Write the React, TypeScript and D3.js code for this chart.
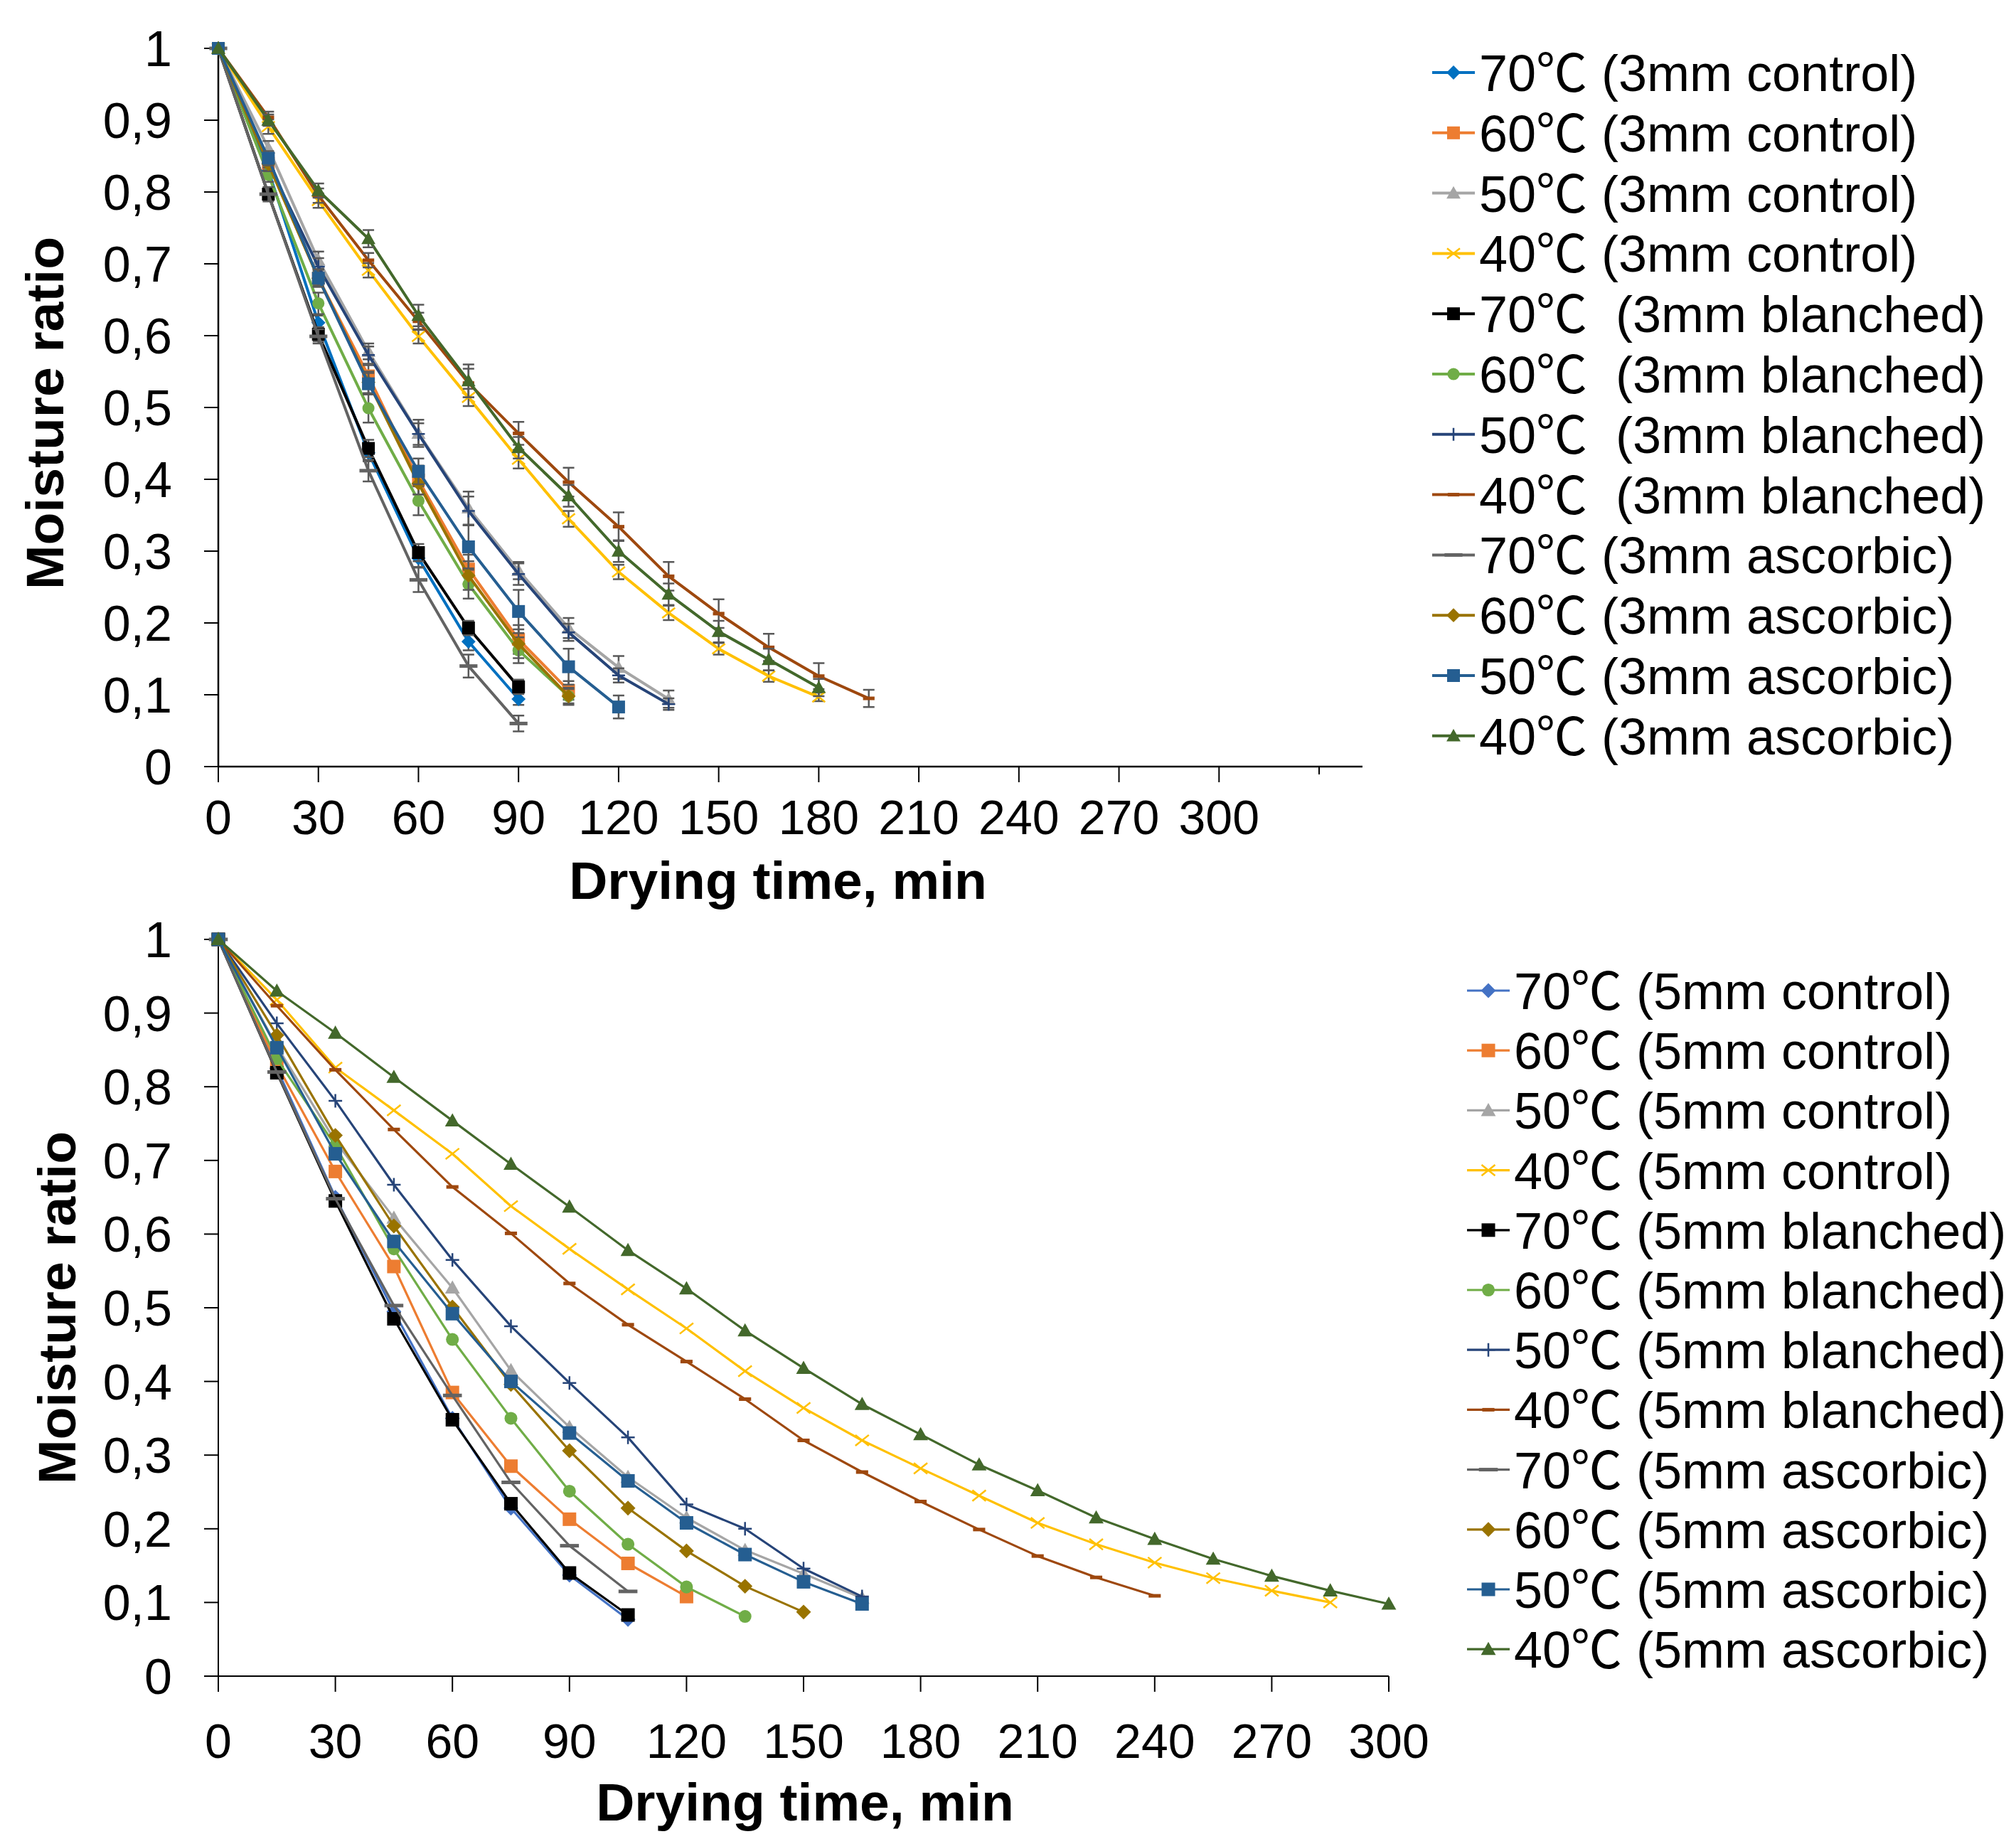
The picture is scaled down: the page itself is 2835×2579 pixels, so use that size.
import React, { useEffect, useRef } from 'react';
import * as d3 from 'd3';

// drying time (min), shared by all series
const times = [0, 15, 30, 45, 60, 75, 90, 105, 120, 135, 150, 165, 180, 195, 210, 225, 240, 255, 270, 285, 300];
const yTickValues = [0, 0.1, 0.2, 0.3, 0.4, 0.5, 0.6, 0.7, 0.8, 0.9, 1];
const yTickLabels = ['0', '0,1', '0,2', '0,3', '0,4', '0,5', '0,6', '0,7', '0,8', '0,9', '1'];
const xTickValuesTop = [0, 30, 60, 90, 120, 150, 180, 210, 240, 270, 300, 330];
const xTickValuesBottom = [0, 30, 60, 90, 120, 150, 180, 210, 240, 270, 300];
const xTickLabels = ['0', '30', '60', '90', '120', '150', '180', '210', '240', '270', '300'];

// 3 mm slices: moisture ratio
const mr3Control70 = [1, 0.83, 0.618, 0.437, 0.29, 0.174, 0.094];
const mr3Control60 = [1, 0.84, 0.68, 0.544, 0.399, 0.275, 0.177, 0.106];
const mr3Control50 = [1, 0.861, 0.705, 0.578, 0.464, 0.36, 0.273, 0.193, 0.138, 0.094];
const mr3Control40 = [1, 0.891, 0.788, 0.691, 0.599, 0.514, 0.428, 0.345, 0.271, 0.214, 0.164, 0.126, 0.097];
const mr3Blanched70 = [1, 0.797, 0.602, 0.443, 0.298, 0.193, 0.111];
const mr3Blanched60 = [1, 0.824, 0.645, 0.499, 0.37, 0.254, 0.162, 0.098];
const mr3Blanched50 = [1, 0.84, 0.696, 0.573, 0.463, 0.356, 0.268, 0.187, 0.127, 0.087];
const mr3Blanched40 = [1, 0.904, 0.795, 0.705, 0.62, 0.534, 0.464, 0.396, 0.334, 0.265, 0.213, 0.166, 0.126, 0.095];
const mr3Ascorbic70 = [1, 0.797, 0.599, 0.412, 0.26, 0.14, 0.06];
const mr3Ascorbic60 = [1, 0.839, 0.68, 0.535, 0.394, 0.266, 0.171, 0.098];
const mr3Ascorbic50 = [1, 0.847, 0.68, 0.533, 0.411, 0.306, 0.216, 0.139, 0.083];
const mr3Ascorbic40 = [1, 0.9, 0.802, 0.735, 0.628, 0.537, 0.444, 0.377, 0.3, 0.24, 0.188, 0.149, 0.11];

// 3 mm slices: error (+/-)
const err3Control70 = [0, 0.01, 0.01, 0.012, 0.012, 0.012, 0.008];
const err3Control60 = [0, 0.01, 0.01, 0.015, 0.02, 0.02, 0.02, 0.013];
const err3Control50 = [0, 0.01, 0.012, 0.011, 0.019, 0.023, 0.012, 0.014, 0.016, 0.012];
const err3Control40 = [0, 0.01, 0.01, 0.01, 0.01, 0.012, 0.013, 0.011, 0.01, 0.01, 0.008, 0.008, 0.006];
const err3Blanched70 = [0, 0.008, 0.01, 0.012, 0.012, 0.01, 0.01];
const err3Blanched60 = [0, 0.01, 0.015, 0.02, 0.02, 0.02, 0.018, 0.01];
const err3Blanched50 = [0, 0.01, 0.012, 0.012, 0.015, 0.02, 0.015, 0.012, 0.01, 0.008];
const err3Blanched40 = [0, 0.008, 0.01, 0.01, 0.012, 0.02, 0.016, 0.02, 0.02, 0.02, 0.02, 0.019, 0.018, 0.012];
const err3Ascorbic70 = [0, 0.01, 0.01, 0.015, 0.017, 0.016, 0.011];
const err3Ascorbic60 = [0, 0.01, 0.012, 0.015, 0.015, 0.02, 0.02, 0.012];
const err3Ascorbic50 = [0, 0.01, 0.012, 0.015, 0.018, 0.03, 0.03, 0.025, 0.016];
const err3Ascorbic40 = [0, 0.008, 0.01, 0.012, 0.015, 0.023, 0.015, 0.015, 0.015, 0.015, 0.015, 0.015, 0.012];

// 5 mm slices: moisture ratio
const mr5Control70 = [1, 0.825, 0.65, 0.495, 0.35, 0.228, 0.137, 0.077];
const mr5Control60 = [1, 0.83, 0.685, 0.556, 0.385, 0.285, 0.213, 0.153, 0.108];
const mr5Control50 = [1, 0.855, 0.726, 0.622, 0.527, 0.415, 0.338, 0.27, 0.215, 0.171, 0.139, 0.106];
const mr5Control40 = [1, 0.918, 0.826, 0.768, 0.709, 0.638, 0.58, 0.525, 0.472, 0.414, 0.364, 0.32, 0.282, 0.245, 0.208, 0.179, 0.154, 0.133, 0.116, 0.1];
const mr5Blanched70 = [1, 0.819, 0.645, 0.485, 0.348, 0.234, 0.14, 0.083];
const mr5Blanched60 = [1, 0.838, 0.72, 0.58, 0.457, 0.35, 0.251, 0.179, 0.121, 0.081];
const mr5Blanched50 = [1, 0.886, 0.781, 0.667, 0.565, 0.475, 0.398, 0.324, 0.233, 0.2, 0.146, 0.108];
const mr5Blanched40 = [1, 0.91, 0.823, 0.742, 0.664, 0.601, 0.533, 0.477, 0.427, 0.376, 0.32, 0.277, 0.237, 0.199, 0.163, 0.134, 0.109];
const mr5Ascorbic70 = [1, 0.82, 0.648, 0.503, 0.381, 0.263, 0.177, 0.115];
const mr5Ascorbic60 = [1, 0.87, 0.734, 0.611, 0.501, 0.396, 0.306, 0.228, 0.17, 0.122, 0.087];
const mr5Ascorbic50 = [1, 0.853, 0.709, 0.59, 0.492, 0.4, 0.33, 0.265, 0.208, 0.165, 0.128, 0.098];
const mr5Ascorbic40 = [1, 0.93, 0.873, 0.813, 0.754, 0.695, 0.637, 0.578, 0.526, 0.469, 0.418, 0.369, 0.328, 0.287, 0.252, 0.215, 0.186, 0.159, 0.136, 0.116, 0.098];

const labels3 = [
  '70℃ (3mm control)', '60℃ (3mm control)', '50℃ (3mm control)', '40℃ (3mm control)',
  '70℃  (3mm blanched)', '60℃  (3mm blanched)', '50℃  (3mm blanched)', '40℃  (3mm blanched)',
  '70℃ (3mm ascorbic)', '60℃ (3mm ascorbic)', '50℃ (3mm ascorbic)', '40℃ (3mm ascorbic)',
];
const labels5 = [
  '70℃ (5mm control)', '60℃ (5mm control)', '50℃ (5mm control)', '40℃ (5mm control)',
  '70℃ (5mm blanched)', '60℃ (5mm blanched)', '50℃ (5mm blanched)', '40℃ (5mm blanched)',
  '70℃ (5mm ascorbic)', '60℃ (5mm ascorbic)', '50℃ (5mm ascorbic)', '40℃ (5mm ascorbic)',
];

const colors3 = ['#0070C0', '#ED7D31', '#A5A5A5', '#FFC000', '#000000', '#70AD47', '#264478', '#9E480E', '#636363', '#997300', '#255E91', '#43682B'];
const colors5 = ['#4472C4', '#ED7D31', '#A5A5A5', '#FFC000', '#000000', '#70AD47', '#264478', '#9E480E', '#636363', '#997300', '#255E91', '#43682B'];
const markers = ['diamond', 'square', 'triangle', 'x', 'square', 'circle', 'plus', 'dash', 'longdash', 'diamond', 'square', 'triangle'];

const values3 = [mr3Control70, mr3Control60, mr3Control50, mr3Control40, mr3Blanched70, mr3Blanched60, mr3Blanched50, mr3Blanched40, mr3Ascorbic70, mr3Ascorbic60, mr3Ascorbic50, mr3Ascorbic40];
const errors3 = [err3Control70, err3Control60, err3Control50, err3Control40, err3Blanched70, err3Blanched60, err3Blanched50, err3Blanched40, err3Ascorbic70, err3Ascorbic60, err3Ascorbic50, err3Ascorbic40];
const values5 = [mr5Control70, mr5Control60, mr5Control50, mr5Control40, mr5Blanched70, mr5Blanched60, mr5Blanched50, mr5Blanched40, mr5Ascorbic70, mr5Ascorbic60, mr5Ascorbic50, mr5Ascorbic40];

const FONT = "'Liberation Sans', Arial, 'Noto Sans CJK JP', sans-serif";

// draw one marker symbol centred at (cx, cy)
function drawMarker(g: any, type: string, cx: number, cy: number, color: string, r: number) {
  if (type === 'diamond') {
    g.append('path').attr('d', `M${cx},${cy - r * 1.1}L${cx + r * 1.1},${cy}L${cx},${cy + r * 1.1}L${cx - r * 1.1},${cy}Z`).attr('fill', color);
  } else if (type === 'square') {
    g.append('rect').attr('x', cx - r).attr('y', cy - r).attr('width', 2 * r).attr('height', 2 * r).attr('fill', color);
  } else if (type === 'triangle') {
    g.append('path').attr('d', `M${cx},${cy - r * 1.1}L${cx + r * 1.1},${cy + r * 0.85}L${cx - r * 1.1},${cy + r * 0.85}Z`).attr('fill', color);
  } else if (type === 'circle') {
    g.append('circle').attr('cx', cx).attr('cy', cy).attr('r', r * 0.95).attr('fill', color);
  } else if (type === 'x') {
    g.append('path').attr('d', `M${cx - r},${cy - r * 0.8}L${cx + r},${cy + r * 0.8}M${cx - r},${cy + r * 0.8}L${cx + r},${cy - r * 0.8}`)
      .attr('stroke', color).attr('stroke-width', 2.5).attr('fill', 'none');
  } else if (type === 'plus') {
    g.append('path').attr('d', `M${cx - r},${cy}L${cx + r},${cy}M${cx},${cy - r}L${cx},${cy + r}`)
      .attr('stroke', color).attr('stroke-width', 2.5).attr('fill', 'none');
  } else if (type === 'dash') {
    g.append('rect').attr('x', cx - r * 0.9).attr('y', cy - 2.5).attr('width', r * 1.8).attr('height', 5).attr('fill', color);
  } else if (type === 'longdash') {
    g.append('rect').attr('x', cx - r * 1.4).attr('y', cy - 2.5).attr('width', r * 2.8).attr('height', 5).attr('fill', color);
  }
}

function drawPanel(root: any, cfg: any) {
  const x = d3.scaleLinear().domain(cfg.xDomain).range(cfg.xRange);
  const y = d3.scaleLinear().domain([0, 1]).range(cfg.yRange);
  const g = root.append('g');
  const x0 = x(0);
  const y0 = y(0);

  // axes
  g.append('line').attr('x1', x0).attr('x2', cfg.xRange[1]).attr('y1', y0).attr('y2', y0)
    .attr('stroke', '#000').attr('stroke-width', cfg.axisWidth);
  g.append('line').attr('x1', x0).attr('x2', x0).attr('y1', y0).attr('y2', y(1))
    .attr('stroke', '#000').attr('stroke-width', cfg.axisWidth);

  yTickValues.forEach((v, i) => {
    g.append('line').attr('x1', x0 - 20).attr('x2', x0).attr('y1', y(v)).attr('y2', y(v))
      .attr('stroke', '#000').attr('stroke-width', 2);
    g.append('text').attr('x', x0 - 65).attr('y', y(v) + 25).attr('text-anchor', 'end')
      .attr('font-family', FONT).attr('font-size', 70).text(yTickLabels[i]);
  });

  cfg.xTickValues.forEach((v: number, i: number) => {
    const label = xTickLabels[i];
    g.append('line').attr('x1', x(v)).attr('x2', x(v)).attr('y1', y0).attr('y2', y0 + (label ? 22 : 11))
      .attr('stroke', '#000').attr('stroke-width', 2);
    if (label) {
      g.append('text').attr('x', x(v)).attr('y', cfg.xLabelY).attr('text-anchor', 'middle')
        .attr('font-family', FONT).attr('font-size', 68).text(label);
    }
  });

  g.append('text').attr('x', cfg.xTitleX).attr('y', cfg.xTitleY).attr('text-anchor', 'middle')
    .attr('font-family', FONT).attr('font-weight', 'bold').attr('font-size', 75).text('Drying time, min');
  g.append('text').attr('transform', `translate(${cfg.yTitleX},${(y(0) + y(1)) / 2 + cfg.yTitleShift}) rotate(-90)`)
    .attr('text-anchor', 'middle').attr('font-family', FONT).attr('font-weight', 'bold')
    .attr('font-size', 75).text('Moisture ratio');

  const line = d3.line<number>().x((d, i) => x(times[i])).y((d) => y(d));

  cfg.values.forEach((vals: number[], s: number) => {
    const color = cfg.colors[s];
    g.append('path').attr('d', line(vals)).attr('fill', 'none').attr('stroke', color)
      .attr('stroke-width', cfg.lineWidth).attr('stroke-linejoin', 'round');
    if (cfg.errors) {
      const errs = cfg.errors[s];
      vals.forEach((v, i) => {
        const e = errs[i];
        if (!e) return;
        const cx = x(times[i]);
        g.append('path')
          .attr('d', `M${cx},${y(v + e)}L${cx},${y(v - e)}M${cx - 8},${y(v + e)}L${cx + 8},${y(v + e)}M${cx - 8},${y(v - e)}L${cx + 8},${y(v - e)}`)
          .attr('stroke', '#595959').attr('stroke-width', 2.5).attr('fill', 'none');
      });
    }
    vals.forEach((v, i) => drawMarker(g, markers[s], x(times[i]), y(v), color, cfg.markerR));
  });

  // legend
  cfg.labels.forEach((label: string, i: number) => {
    const ly = cfg.legendY + i * cfg.legendStep;
    g.append('line').attr('x1', cfg.legendX).attr('x2', cfg.legendX + 60).attr('y1', ly).attr('y2', ly)
      .attr('stroke', cfg.colors[i]).attr('stroke-width', cfg.lineWidth);
    drawMarker(g, markers[i], cfg.legendX + 30, ly, cfg.colors[i], cfg.markerR);
    g.append('text').attr('x', cfg.legendX + 66).attr('y', ly + 26).attr('font-family', FONT)
      .attr('font-size', 72).style('white-space', 'pre').text(label);
  });
}

export default function App() {
  const svgRef = useRef<SVGSVGElement>(null);

  useEffect(() => {
    const svg = d3.select(svgRef.current);
    svg.selectAll('*').remove();
    svg.append('rect').attr('width', 2835).attr('height', 2579).attr('fill', '#fff');

    drawPanel(svg, {
      xDomain: [0, 343], xRange: [307, 1916], yRange: [1078, 68],
      xTickValues: xTickValuesTop, xLabelY: 1173, xTitleX: 1094, xTitleY: 1264, yTitleX: 89, yTitleShift: 8,
      values: values3, errors: errors3, colors: colors3, labels: labels3,
      legendX: 2014, legendY: 102, legendStep: 84.8,
      lineWidth: 4, markerR: 9, axisWidth: 2.5,
    });
    drawPanel(svg, {
      xDomain: [0, 300], xRange: [307, 1953], yRange: [2357, 1321],
      xTickValues: xTickValuesBottom, xLabelY: 2472, xTitleX: 1132, xTitleY: 2560, yTitleX: 106, yTitleShift: 0,
      values: values5, errors: null, colors: colors5, labels: labels5,
      legendX: 2063, legendY: 1393, legendStep: 84.2,
      lineWidth: 3.2, markerR: 9.5, axisWidth: 2,
    });
  }, []);

  return (
    <svg ref={svgRef} width={2835} height={2579}
      style={{ position: 'absolute', left: 0, top: 0, display: 'block' }} />
  );
}
